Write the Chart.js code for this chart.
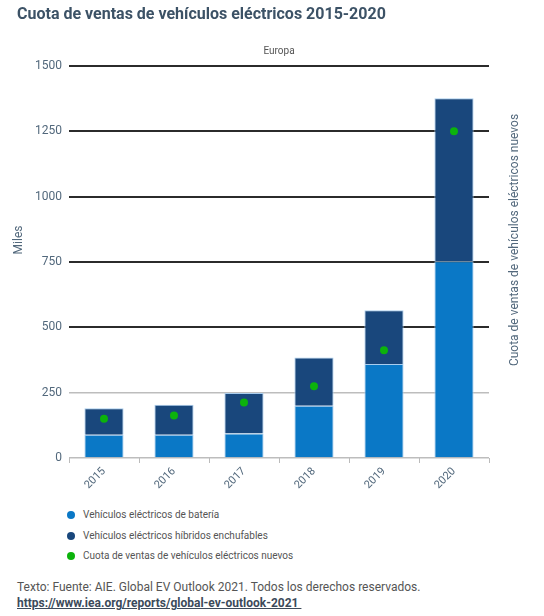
<!DOCTYPE html>
<html>
<head>
<meta charset="utf-8">
<script src="https://cdn.jsdelivr.net/npm/chart.js@4.4.0/dist/chart.umd.min.js"></script>
<style>
  body { margin: 0; background: #fff; font-family: Roboto, "Noto Sans", sans-serif; }
  #wrap { position: relative; width: 544px; height: 616px; }
  #title { position: absolute; left: 17px; top: 4px; font-size: 16px; font-weight: bold; color: #3c5266; }
  #chart { position: absolute; left: 0; top: 0; }
  #legend { position: absolute; left: 67px; top: 508px; font-size: 10px; color: #555; }
  #legend div { height: 20.5px; line-height: 14px; }
  #legend span.dot { display: inline-block; width: 8px; height: 8px; border-radius: 50%; margin-right: 8px; vertical-align: -1px; }
  #foot { position: absolute; left: 17px; top: 579px; font-size: 12px; color: #555; line-height: 16px; }
  #foot a { color: #3c4a5a; font-weight: bold; text-decoration: underline; }
</style>
</head>
<body>
<div id="wrap">
  <canvas id="chart" width="544" height="500"></canvas>
  <div id="title">Cuota de ventas de vehículos eléctricos 2015-2020</div>
  <div id="legend"></div>
  <div id="foot">Texto: Fuente: AIE. Global EV Outlook 2021. Todos los derechos reservados.<br><a>https://www.iea.org/reports/global-ev-outlook-2021&nbsp;</a></div>
</div>
<script>
"use strict";

// data (thousands of vehicles / % share)
var years = ["2015", "2016", "2017", "2018", "2019", "2020"];
var bevSales = [89, 89, 94, 200, 360, 753];
var phevSales = [101, 115, 155, 185, 205, 624];
var evShare = [1.2, 1.3, 1.7, 2.2, 3.3, 10.0];
var yTicks = [0, 250, 500, 750, 1000, 1250, 1500];

var seriesNames = [
  "Vehículos eléctricos de batería",
  "Vehículos eléctricos híbridos enchufables",
  "Cuota de ventas de vehículos eléctricos nuevos"
];
var colors = ["#0a78c6", "#19477c", "#0cb30c"];
var textColor = "#52687c";

// extra labels: panel name and both axis titles
var labelsPlugin = {
  id: "extraLabels",
  afterDraw: function(chart) {
    var ctx = chart.ctx;
    var area = chart.chartArea;
    ctx.save();
    ctx.fillStyle = "#555";
    ctx.font = "10px Roboto";
    ctx.textAlign = "center";
    ctx.textBaseline = "middle";
    ctx.fillText("Europa", (area.left + area.right) / 2, 51);

    ctx.fillStyle = textColor;
    ctx.font = "12px Roboto";
    ctx.translate(19, 240);
    ctx.rotate(-Math.PI / 2);
    ctx.fillText("Miles", 0, 0);
    ctx.restore();

    ctx.save();
    ctx.fillStyle = textColor;
    ctx.font = "12px Roboto";
    ctx.textAlign = "center";
    ctx.textBaseline = "middle";
    ctx.translate(515, 240);
    ctx.rotate(-Math.PI / 2);
    ctx.fillText(seriesNames[2], 0, 0);
    ctx.restore();
  }
};

var chart = new Chart(document.getElementById("chart"), {
  type: "bar",
  data: {
    labels: years,
    datasets: [
      {
        type: "line",
        label: seriesNames[2],
        data: evShare,
        yAxisID: "y1",
        showLine: false,
        pointRadius: 4,
        pointBackgroundColor: colors[2],
        pointBorderWidth: 0,
        backgroundColor: colors[2],
        order: 0
      },
      {
        label: seriesNames[0],
        data: bevSales,
        backgroundColor: colors[0],
        borderColor: "#a9cdee",
        borderWidth: 1,
        barPercentage: 0.56,
        categoryPercentage: 1,
        order: 1
      },
      {
        label: seriesNames[1],
        data: phevSales,
        backgroundColor: colors[1],
        borderColor: "#a9cdee",
        borderWidth: 1,
        barPercentage: 0.56,
        categoryPercentage: 1,
        order: 2
      }
    ]
  },
  options: {
    responsive: false,
    animation: false,
    layout: { padding: { top: 66, left: 0, right: 0, bottom: 0 } },
    plugins: {
      legend: { display: false },
      tooltip: { enabled: false }
    },
    scales: {
      x: {
        stacked: true,
        border: { display: false },
        grid: { drawOnChartArea: false, drawTicks: true, tickLength: 5, color: "#bbb" },
        ticks: { color: textColor, font: { family: "Roboto", size: 11 }, minRotation: 45, maxRotation: 45, padding: 2 },
        afterFit: function(s) { s.height = 42; }
      },
      y: {
        stacked: true,
        min: 0,
        max: 1500,
        border: { display: false },
        afterBuildTicks: function(s) { s.ticks = yTicks.map(function(v) { return { value: v }; }); },
        grid: {
          drawTicks: false,
          color: function(c) { return c.tick && c.tick.value >= 500 ? "#2b2b2b" : "#bdbdbd"; },
          lineWidth: function(c) { return c.tick && c.tick.value >= 500 ? 2 : 1.5; }
        },
        ticks: {
          color: textColor,
          font: { family: "Roboto", size: 12 },
          padding: 7,
          callback: function(v) { return String(v); }
        },
        afterFit: function(s) { s.width = 69; }
      },
      y1: {
        position: "right",
        min: 0,
        max: 12,
        border: { display: false },
        grid: { drawOnChartArea: false, drawTicks: false },
        ticks: { display: false },
        afterFit: function(s) { s.width = 55; }
      }
    }
  },
  plugins: [labelsPlugin]
});

// legend below the plot, one row per series
var legend = document.getElementById("legend");
var legendOrder = [1, 2, 0];
legendOrder.forEach(function(i) {
  var ds = chart.data.datasets[i];
  var row = document.createElement("div");
  var dot = document.createElement("span");
  dot.className = "dot";
  dot.style.background = ds.backgroundColor;
  row.appendChild(dot);
  row.appendChild(document.createTextNode(ds.label));
  legend.appendChild(row);
});
</script>
</body>
</html>
